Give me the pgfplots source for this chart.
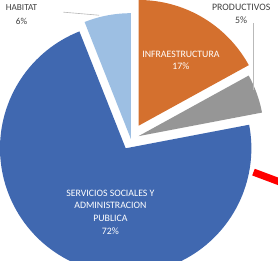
\documentclass[border=0pt]{standalone}
\usepackage{fontspec}
\setmainfont{Carlito}
\usepackage{pgfplots}
\pgfplotsset{compat=1.18}

\definecolor{cHab}{HTML}{9DBFE3}
\definecolor{cInf}{HTML}{D4702E}
\definecolor{cPro}{HTML}{969696}
\definecolor{cSer}{HTML}{4068B0}
\definecolor{lbl}{HTML}{404040}

% shares in percent
\def\vInf{17}
\def\vPro{5}
\def\vSer{72}
\def\vHab{6}

% slice: start angle, end angle, explosion, colour
\newcommand\slice[4]{%
  \pgfmathsetmacro\mid{(#1+#2)/2}%
  \pgfmathsetmacro\ax{134+#3*cos(\mid)}%
  \pgfmathsetmacro\ay{119+#3*sin(\mid)}%
  \edef\doslice{\noexpand\addplot[fill=#4, draw=none, domain=#1:#2, samples=120, variable=\noexpand\t]
    ({\ax+123*cos(\noexpand\t)},{\ay+123*sin(\noexpand\t)}) -- (axis cs:\ax,\ay) -- cycle;}%
  \doslice
}

\begin{document}
\begin{tikzpicture}
\begin{axis}[width=278pt,height=255pt,scale only axis,
  xmin=0,xmax=278,ymin=0,ymax=255,hide axis,clip=true]
\pgfmathsetmacro\aA{90}
\pgfmathsetmacro\aB{\aA-3.6*\vInf}
\pgfmathsetmacro\aC{\aB-3.6*\vPro}
\pgfmathsetmacro\aD{\aC-3.6*\vSer}
\pgfmathsetmacro\aE{\aD-3.6*\vHab}
\slice{\aB}{\aA}{15}{cInf}
\slice{\aC}{\aB}{8}{cPro}
\slice{\aD}{\aC}{10.5}{cSer}
\slice{\aE}{\aD}{0}{cHab}

\addplot[gray!55, line width=0.6pt] coordinates {(68,243) (103,240)};
\addplot[gray!55, line width=0.6pt] coordinates {(253.5,232) (253.5,167)};
\addplot[red, line width=7pt] coordinates {(254,86.5) (290,73)};

\node[white, align=center, font=\fontsize{9.6}{12.5}\selectfont] at (axis cs:114,47.4)
  {SERVICIOS SOCIALES Y\\ADMINISTRACION\\PUBLICA\\72\%};
\node[white, align=center, font=\fontsize{9.6}{11.5}\selectfont] at (axis cs:183,195.8)
  {INFRAESTRUCTURA\\17\%};
\node[lbl, align=center, font=\fontsize{9}{13.5}\selectfont] at (axis cs:27,241)
  {HABITAT\\6\%};
\node[lbl, align=center, font=\fontsize{9.6}{13}\selectfont] at (axis cs:242,241.5)
  {PRODUCTIVOS\\5\%};
\end{axis}
\end{tikzpicture}
\end{document}
